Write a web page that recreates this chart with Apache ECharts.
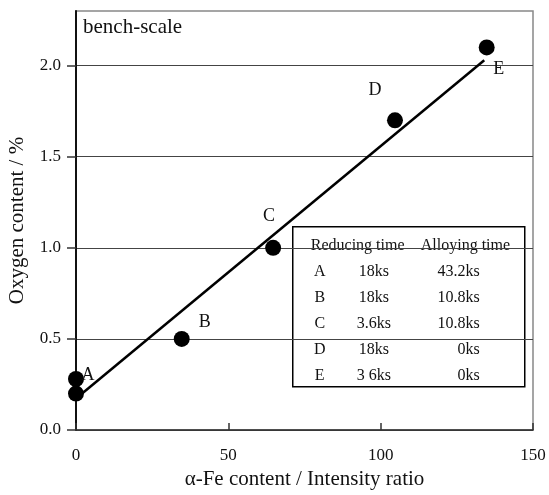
<!DOCTYPE html>
<html>
<head>
<meta charset="utf-8">
<script src="https://cdn.jsdelivr.net/npm/echarts@6/dist/echarts.min.js"></script>
<style>
  html, body { margin: 0; padding: 0; background: #fff; }
  #chart { width: 549px; height: 495px; }
</style>
</head>
<body>
<div id="chart"></div>
<script>
// measured points (alpha-Fe intensity ratio vs oxygen content)
var pointNames = ['A', '', 'B', 'C', 'D', 'E']
var feRatio = [0, 0, 34.7, 64.7, 104.7, 134.8]
var oxygen = [0.28, 0.20, 0.50, 1.00, 1.70, 2.10]
// fitted line ends
var fitX = [2, 134]
var fitY = [0.2, 2.03]
// tick labels
var xTicks = [0, 50, 100, 150]
var yTicks = [0, 0.5, 1.0, 1.5, 2.0]
// inset table
var tableHeader = ['Reducing time', 'Alloying time']
var tableRows = [
  ['A', '18ks', '43.2ks'],
  ['B', '18ks', '10.8ks'],
  ['C', '3.6ks', '10.8ks'],
  ['D', '18ks', '0ks'],
  ['E', '3 6ks', '0ks']
]

var font = 'Liberation Serif'
// where each letter sits relative to its dot
var labelOffsets = [[12, -4], [0, 0], [23, -17], [-4, -32], [-20, -30], [12, 22]]

var chart = echarts.init(document.getElementById('chart'))

var scatterData = feRatio.map(function (x, i) {
  return {
    value: [x, oxygen[i]],
    label: { show: pointNames[i] !== '', formatter: pointNames[i], offset: labelOffsets[i] }
  }
})

var tf = '16px "Liberation Serif"'
var tableGraphics = [{
  type: 'rect',
  shape: { x: 0, y: 0, width: 232, height: 160 },
  style: { fill: '#fff', stroke: '#000', lineWidth: 1.5 }
}, {
  type: 'text', x: 18, y: 19,
  style: { text: tableHeader[0], font: tf, fill: '#111', verticalAlign: 'middle' }
}, {
  type: 'text', x: 128, y: 19,
  style: { text: tableHeader[1], font: tf, fill: '#111', verticalAlign: 'middle' }
}]
tableRows.forEach(function (row, r) {
  var y = 45 + r * 26
  tableGraphics.push({ type: 'text', x: 27, y: y,
    style: { text: row[0], font: tf, fill: '#111', verticalAlign: 'middle', align: 'center' } })
  tableGraphics.push({ type: 'text', x: 81, y: y,
    style: { text: row[1], font: tf, fill: '#111', verticalAlign: 'middle', align: 'center' } })
  tableGraphics.push({ type: 'text', x: 187, y: y,
    style: { text: row[2], font: tf, fill: '#111', verticalAlign: 'middle', align: 'right' } })
})

chart.setOption({
  animation: false,
  textStyle: { fontFamily: font },
  grid: {
    left: 76, right: 16, top: 11, bottom: 65,
    outerBoundsMode: 'none',
    show: true, borderColor: '#888', borderWidth: 1.5
  },
  xAxis: {
    type: 'value',
    min: 0, max: 150, interval: 50,
    name: 'α-Fe content / Intensity ratio',
    nameLocation: 'middle',
    nameGap: 37,
    nameTextStyle: { fontSize: 21, color: '#111', fontFamily: font },
    axisLine: { show: true, lineStyle: { color: '#333', width: 1.5 } },
    axisTick: { show: true, inside: true, length: 7, customValues: xTicks, lineStyle: { color: '#333', width: 1.5 } },
    axisLabel: { fontSize: 17, color: '#111', margin: 17, fontFamily: font, customValues: xTicks },
    splitLine: { show: false }
  },
  yAxis: {
    type: 'value',
    min: 0, max: 2.3, interval: 0.5,
    name: 'Oxygen content / %',
    nameLocation: 'middle',
    nameGap: 48,
    nameTextStyle: { fontSize: 21, color: '#111', fontFamily: font },
    axisLine: { show: true, lineStyle: { color: '#111', width: 2 } },
    axisTick: { show: true, length: 9, customValues: yTicks, lineStyle: { color: '#333', width: 1.5 } },
    axisLabel: {
      fontSize: 17, color: '#111', margin: 15, fontFamily: font,
      customValues: yTicks,
      formatter: function (v) { return v.toFixed(1) }
    },
    splitLine: { show: true, lineStyle: { color: '#444', width: 1 } }
  },
  graphic: [{
    type: 'text', left: 83, top: 17, z: 10,
    style: { text: 'bench-scale', font: '21px "Liberation Serif"', fill: '#111' }
  }, {
    type: 'group', left: 292, top: 226, z: 5,
    children: tableGraphics
  }],
  series: [{
    type: 'line',
    data: fitX.map(function (x, i) { return [x, fitY[i]] }),
    showSymbol: false,
    lineStyle: { color: '#000', width: 2.5 },
    z: 3
  }, {
    type: 'scatter',
    data: scatterData,
    symbol: 'circle',
    symbolSize: 16,
    itemStyle: { color: '#000', opacity: 1 },
    label: {
      position: 'inside',
      fontSize: 18,
      color: '#111',
      fontFamily: font
    },
    z: 4
  }]
})
</script>
</body>
</html>
